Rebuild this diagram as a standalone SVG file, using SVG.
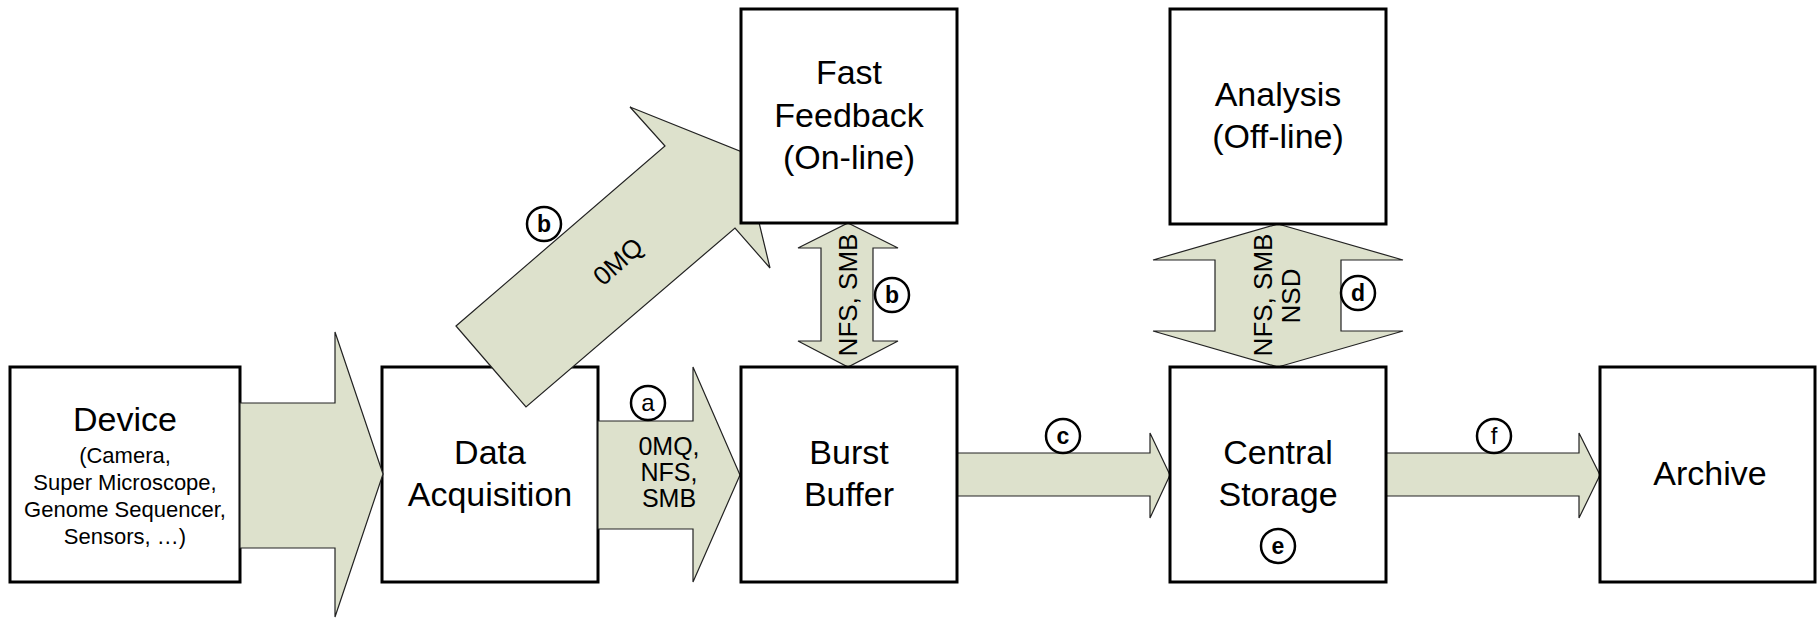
<svg xmlns="http://www.w3.org/2000/svg" width="1817" height="619" viewBox="0 0 1817 619">
<style>
.box{fill:#fff;stroke:#000;stroke-width:3}
.arr{fill:#DDE1CC;stroke:#222;stroke-width:1.2;stroke-linejoin:miter}
.t{font-family:"Liberation Sans",Arial,sans-serif;font-size:34px;text-anchor:middle;fill:#000}
.s{font-family:"Liberation Sans",Arial,sans-serif;font-size:22px;text-anchor:middle;fill:#000}
.l{font-family:"Liberation Sans",Arial,sans-serif;font-size:25px;text-anchor:middle;fill:#000}
.c{fill:#fff;stroke:#000;stroke-width:2.5}
.ct{font-family:"Liberation Sans",Arial,sans-serif;font-size:23px;font-weight:bold;text-anchor:middle;fill:#000}
.cn{font-family:"Liberation Sans",Arial,sans-serif;font-size:24px;text-anchor:middle;fill:#000}
</style>
<rect width="1817" height="619" fill="#fff"/>
<g id="device">
<rect class="box" x="10" y="367" width="230" height="215"/>
<text class="t" x="125" y="431">Device</text>
<text class="s" x="125" y="463">(Camera,</text>
<text class="s" x="125" y="490">Super Microscope,</text>
<text class="s" x="125" y="517">Genome Sequencer,</text>
<text class="s" x="125" y="544">Sensors, …)</text>
</g>
<g id="data-acquisition">
<rect class="box" x="382" y="367" width="216" height="215"/>
<text class="t" x="490" y="464">Data</text>
<text class="t" x="490" y="506">Acquisition</text>
</g>
<g id="connectors">
<polygon class="arr" points="240,403 335,403 335,332 383,474 335,617 335,548 240,548"/>
<polygon class="arr" points="598,421 693,421 693,367 740,475 693,582 693,529 598,529"/>
<polygon class="arr" points="957,453 1150,453 1150,433 1170,475 1150,518 1150,496 957,496"/>
<polygon class="arr" points="1386,453 1579,453 1579,433 1600,475 1579,518 1579,496 1386,496"/>
<polygon class="arr" points="456,326 665,146 630,107 742,152 770,268 735,228 526,407"/>
<polygon class="arr" points="848,223 898,248 873,248 873,341 898,341 848,367 798,341 821,341 821,248 798,248"/>
<polygon class="arr" points="1278,224 1403,260 1341,260 1341,331 1403,331 1278,367 1153,331 1215,331 1215,260 1153,260"/>
<text class="l" x="669" y="455">0MQ,</text>
<text class="l" x="669" y="481">NFS,</text>
<text class="l" x="669" y="507">SMB</text>
<text class="l" transform="translate(624,268) rotate(-42)" x="0" y="0" style="font-size:26px">0MQ</text>
<text class="l" transform="translate(857,295) rotate(-90)" x="0" y="0" style="font-size:26px">NFS, SMB</text>
<text class="l" transform="translate(1272,295) rotate(-90)" x="0" y="0" style="font-size:26px">NFS, SMB</text>
<text class="l" transform="translate(1300,296) rotate(-90)" x="0" y="0" style="font-size:26px">NSD</text>
<g id="label-a"><circle class="c" cx="648" cy="403" r="17"/><text class="cn" x="648" y="411">a</text></g>
<g id="label-b1"><circle class="c" cx="544" cy="224" r="17"/><text class="ct" x="544" y="232">b</text></g>
<g id="label-b2"><circle class="c" cx="892" cy="295" r="17"/><text class="ct" x="892" y="303">b</text></g>
<g id="label-c"><circle class="c" cx="1063" cy="436" r="17"/><text class="ct" x="1063" y="444">c</text></g>
<g id="label-d"><circle class="c" cx="1358" cy="293" r="17"/><text class="ct" x="1358" y="301">d</text></g>
<g id="label-f"><circle class="c" cx="1494" cy="436" r="17"/><text class="cn" x="1494" y="444">f</text></g>
</g>
<g id="fast-feedback">
<rect class="box" x="741" y="9" width="216" height="214"/>
<text class="t" x="849" y="84">Fast</text>
<text class="t" x="849" y="127">Feedback</text>
<text class="t" x="849" y="169">(On-line)</text>
</g>
<g id="burst-buffer">
<rect class="box" x="741" y="367" width="216" height="215"/>
<text class="t" x="849" y="464">Burst</text>
<text class="t" x="849" y="506">Buffer</text>
</g>
<g id="analysis">
<rect class="box" x="1170" y="9" width="216" height="215"/>
<text class="t" x="1278" y="106">Analysis</text>
<text class="t" x="1278" y="148">(Off-line)</text>
</g>
<g id="central-storage">
<rect class="box" x="1170" y="367" width="216" height="215"/>
<text class="t" x="1278" y="464">Central</text>
<text class="t" x="1278" y="506">Storage</text>
<circle class="c" cx="1278" cy="546" r="17"/>
<text class="ct" x="1278" y="554">e</text>
</g>
<g id="archive">
<rect class="box" x="1600" y="367" width="215" height="215"/>
<text class="t" x="1710" y="485">Archive</text>
</g>
</svg>
